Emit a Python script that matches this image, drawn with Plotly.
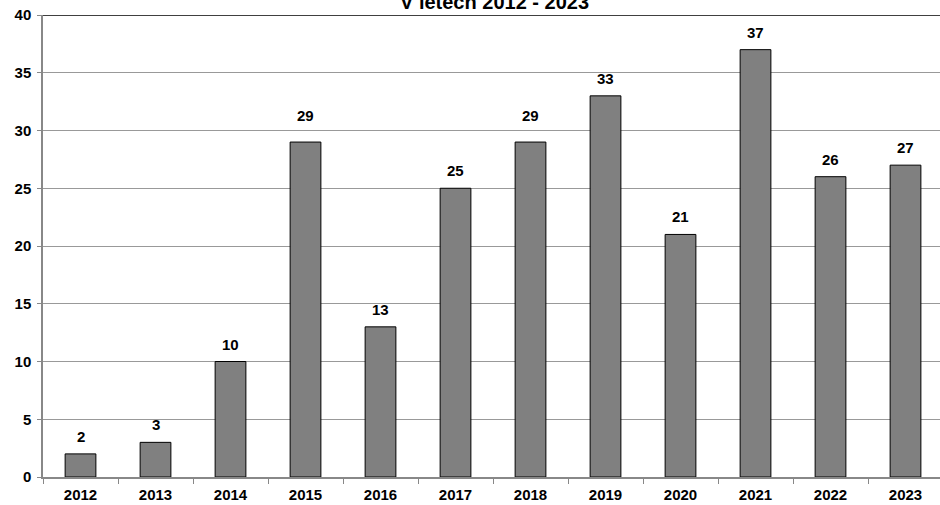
import plotly.graph_objects as go

years = ["2012", "2013", "2014", "2015", "2016", "2017", "2018", "2019", "2020", "2021", "2022", "2023"]
counts = [2, 3, 10, 29, 13, 25, 29, 33, 21, 37, 26, 27]
y_ticks = [0, 5, 10, 15, 20, 25, 30, 35, 40]
title_text = "V letech 2012 - 2023"

font_family = "Liberation Sans, Arial, sans-serif"
fs = 15
# extra vertical nudge (px) for hand-placed labels in the original
label_nudge = {3: 9, 6: 9}

fig = go.Figure()
fig.add_trace(go.Bar(
    x=years, y=counts,
    marker=dict(color="#808080", line=dict(color="#000000", width=1)),
    hoverinfo="x+y",
))

for i, v in enumerate(counts):
    fig.add_annotation(x=i, y=v, text=f"<b>{v}</b>", showarrow=False,
                       xref="x", yref="y", yanchor="bottom", yshift=7 + label_nudge.get(i, 0),
                       font=dict(family=font_family, size=fs, color="#000"))

fig.add_annotation(x=0.503, y=1, xref="paper", yref="paper", text=f"<b>{title_text}</b>",
                   showarrow=False, yanchor="bottom", yshift=0,
                   font=dict(family=font_family, size=20, color="#000"))

fig.add_shape(type="line", xref="paper", yref="y", x0=0, x1=1, y0=40, y1=40,
              line=dict(color="#000000", width=1.5))

fig.update_layout(
    width=940, height=505,
    margin=dict(l=43, r=0, t=15, b=28),
    paper_bgcolor="white", plot_bgcolor="white",
    bargap=0.59,
    showlegend=False,
    font=dict(family=font_family, size=fs, color="#000"),
)
fig.update_xaxes(
    type="category", range=[-0.5, 11.46],
    showline=True, linecolor="#888888", linewidth=1.5,
    ticks="outside", tickson="boundaries", ticklen=5, tickcolor="#888888",
    ticklabelstandoff=3,
    tickfont=dict(family=font_family, size=fs, color="#000", weight="bold"),
    showgrid=False,
)
fig.update_yaxes(
    range=[0, 40], tickvals=y_ticks,
    showline=True, linecolor="#888888", linewidth=1.5,
    ticks="outside", ticklen=4, tickcolor="#888888",
    ticklabelstandoff=3,
    tickfont=dict(family=font_family, size=fs, color="#000", weight="bold"),
    showgrid=True, gridcolor="#999999", gridwidth=1,
    zeroline=False,
)

fig.write_html("out.html", config={"displayModeBar": False},
               post_script="document.body.style.margin='0';")
